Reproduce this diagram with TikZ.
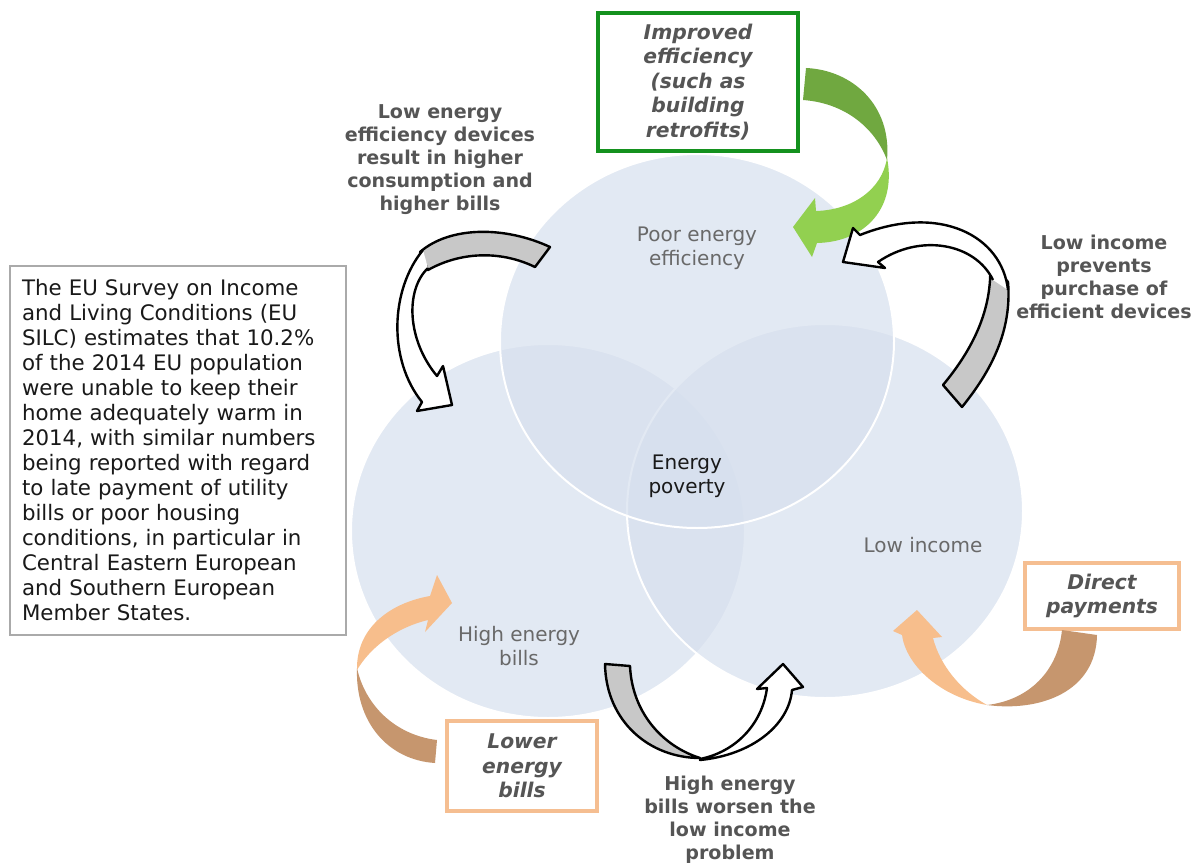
\documentclass[tikz,border=0pt]{standalone}
\usepackage{fontspec}
\setmainfont{DejaVu Sans}
\definecolor{vennfill}{RGB}{215,224,238}
\definecolor{labgray}{RGB}{105,105,105}
\definecolor{boldgray}{RGB}{85,85,85}
\definecolor{gdark}{RGB}{112,168,64}
\definecolor{glight}{RGB}{146,208,80}
\definecolor{gborder}{RGB}{20,145,30}
\definecolor{odark}{RGB}{198,150,110}
\definecolor{olight}{RGB}{247,190,140}
\definecolor{oborder}{RGB}{245,190,145}
\definecolor{bandgray}{RGB}{200,200,200}
\definecolor{boxgray}{RGB}{170,170,170}
\tikzset{
  venn/.style={fill=vennfill, fill opacity=0.7, draw=white, line width=1.5pt},
  circlab/.style={text=labgray, align=center, inner sep=0pt, font={\fontsize{15}{18}\selectfont}},
  corelab/.style={text=black!90, align=center, inner sep=0pt, font={\fontsize{15}{18}\selectfont}},
  boldlab/.style={text=boldgray, align=center, inner sep=0pt, font={\fontsize{14.3}{17.25}\selectfont\bfseries}},
  boxlab/.style={text=boldgray, align=center, inner sep=0pt, fill=white,
    font={\fontsize{15.2}{18.4}\selectfont\bfseries\itshape}},
  grayband/.style={fill=bandgray, draw=black, line width=1.8pt, line join=round},
  whiteband/.style={fill=white, draw=black, line width=1.8pt, line join=round},
}
\begin{document}
\begin{tikzpicture}[x=0.75pt,y=-0.75pt]
\useasboundingbox (0,0) rectangle (1192,863);
\fill[white] (0,0) rectangle (1192,863);
% Venn circles
\path[venn] (548,531) ellipse [x radius=197, y radius=187];
\path[venn] (825,511) ellipse [x radius=198, y radius=187];
\path[venn] (697,341) ellipse [x radius=197, y radius=187];
% circle labels
\node[circlab] (pee) at (697,248) {Poor energy\\efficiency};
\node[circlab] (heb) at (519,646) {High energy\\bills};
\node[circlab] (li) at (923,545) {Low income};
\node[corelab] (ep) at (687,476) {Energy\\poverty};
% survey box
\node[draw=boxgray, line width=1.1pt, minimum width=252pt, minimum height=276.75pt,
      text width=234pt, align=left, inner sep=0pt,
      font={\fontsize{16}{18.75}\selectfont}, text=black!90] (survey) at (178,450.5)
 {The EU Survey on Income\\and Living Conditions (EU\\SILC) estimates that 10.2\%\\of the 2014 EU population\\were unable to keep their\\home adequately warm in\\2014, with similar numbers\\being reported with regard\\to late payment of utility\\bills or poor housing\\conditions, in particular in\\Central Eastern European\\and Southern European\\Member States.};
% bold labels
\node[boldlab] (l1) at (440,160) {Low energy\\efficiency devices\\result in higher\\consumption and\\higher bills};
\node[boldlab] (l2) at (1104,277) {Low income\\prevents\\purchase of\\efficient devices};
\node[boldlab] (l3) at (730,820) {High energy\\bills worsen the\\low income\\problem};
% boxes
\node[boxlab, draw=gborder, line width=2.4pt, minimum width=150pt, minimum height=103.5pt] (imp) at (698,82)
  {Improved\\efficiency\\(such as\\building\\retrofits)};
\node[boxlab, draw=oborder, line width=2.4pt, minimum width=112.5pt, minimum height=67.5pt] (low) at (522,766)
  {Lower\\energy\\bills};
\node[boxlab, draw=oborder, line width=2.4pt, minimum width=115.5pt, minimum height=49.5pt] (dir) at (1102,596)
  {Direct\\payments};
% green arrow
\fill[gdark] (806,68) .. controls (852,70) and (892,105) .. (887,160)
  .. controls (875,128) and (845,103) .. (803,100) -- cycle;
\fill[glight] (887,158) .. controls (897,208) and (865,242) .. (817,243) -- (812,257) -- (793,227)
  -- (815,198) -- (816,211) .. controls (852,210) and (882,190) .. (887,158) -- cycle;
% arrow: low income prevents
\filldraw[grayband] (943,385) -- (962,407) .. controls (992,370) and (1012,330) .. (1008,282)
  -- (990,262) .. controls (993,310) and (972,350) .. (943,385) -- cycle;
\fill[white] (1008,290) .. controls (1002,236) and (940,203) .. (860,235) -- (853,228) -- (843,262)
  -- (885,268) -- (878,262) .. controls (920,233) and (975,243) .. (993,280) -- cycle;
\draw[whiteband, fill=none] (1008,290) .. controls (1002,236) and (940,203) .. (860,235) -- (853,228) -- (843,262)
  -- (885,268) -- (878,262) .. controls (920,233) and (975,243) .. (993,280);
% arrow: low energy efficiency devices
\filldraw[grayband] (550,247) .. controls (505,226) and (450,226) .. (420,252) -- (428,270)
  .. controls (460,252) and (500,250) .. (535,267) -- cycle;
\fill[white] (423,250) .. controls (390,290) and (388,360) .. (422,402) -- (417,411) -- (452,405)
  -- (443,366) -- (437,376) .. controls (407,340) and (405,290) .. (428,268) -- cycle;
\draw[whiteband, fill=none] (423,250) .. controls (390,290) and (388,360) .. (422,402) -- (417,411) -- (452,405)
  -- (443,366) -- (437,376) .. controls (407,340) and (405,290) .. (428,268);
% arrow: high energy bills worsen
\filldraw[grayband] (605,664) -- (630,666) .. controls (632,712) and (662,746) .. (700,758)
  .. controls (650,758) and (606,722) .. (605,664) -- cycle;
\filldraw[whiteband] (700,760) .. controls (752,755) and (789,725) .. (792,690) -- (803,687) -- (783,664)
  -- (757,689) -- (767,688) .. controls (762,725) and (735,752) .. (700,759) -- cycle;
% orange arrow left
\fill[odark] (437,740) -- (435,763) .. controls (388,760) and (355,722) .. (357,668)
  .. controls (365,705) and (395,735) .. (437,740) -- cycle;
\fill[olight] (357,670) .. controls (356,628) and (390,603) .. (430,596) -- (437,575) -- (452,603)
  -- (425,632) -- (428,620) .. controls (395,628) and (370,648) .. (357,670) -- cycle;
% orange arrow right
\fill[odark] (1062,630) -- (1097,635) .. controls (1096,692) and (1040,712) .. (987,705)
  .. controls (1030,700) and (1058,670) .. (1062,630) -- cycle;
\fill[olight] (987,705) .. controls (940,697) and (906,665) .. (902,635) -- (893,631) -- (917,610)
  -- (942,637) -- (933,638) .. controls (940,665) and (960,690) .. (987,705) -- cycle;
\end{tikzpicture}
\end{document}
